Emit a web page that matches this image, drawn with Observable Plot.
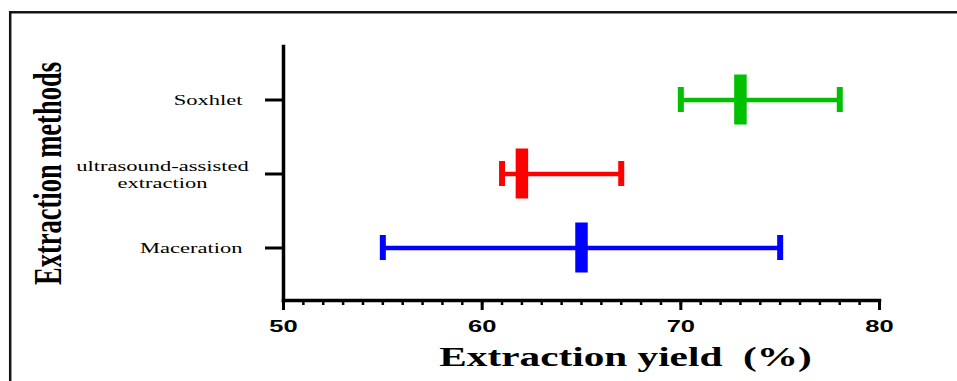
<!DOCTYPE html>
<html>
<head>
<meta charset="utf-8">
<script src="https://cdn.jsdelivr.net/npm/d3@7"></script>
<script src="https://cdn.jsdelivr.net/npm/@observablehq/plot@0.6"></script>
<style>
  html, body { margin: 0; padding: 0; background: #fff; overflow: hidden; }
  #wrap { width: 957px; height: 381px; overflow: hidden; }
  #wrap svg { display: block; }
</style>
</head>
<body>
<div id="wrap"></div>
<script>
// ---- data ----
const methods = ["Soxhlet", "ultrasound-assisted\nextraction", "Maceration"];
const means   = [73, 62, 65];
const lows    = [70, 61, 55];
const highs   = [78, 67, 75];
const colors  = ["#00c000", "#ff0000", "#0000ff"];
const xTicks  = [50, 60, 70, 80];
const xMinorTicks = d3.range(50, 81, 1);
const xTitle = "Extraction yield  (%)";
const yTitle = "Extraction methods";

const rows = methods.map((m, i) => ({method: m, mean: means[i], lo: lows[i], hi: highs[i], color: colors[i]}));

const STRETCH = 1.5;
const serif = "Liberation Serif, Times New Roman, serif";

const chart = Plot.plot({
  width: 957,
  height: 381,
  marginLeft: 283,
  marginRight: 78,
  marginTop: 46,
  marginBottom: 81,
  style: {background: "#fff", overflow: "hidden"},
  x: {domain: [50, 80]},
  y: {type: "band", domain: methods, paddingInner: 2 / 3, paddingOuter: 0.527},
  color: {type: "identity"},
  marks: [
    // axis lines
    Plot.frame({anchor: "left", strokeWidth: 3.5, stroke: "#000"}),
    Plot.frame({anchor: "bottom", strokeWidth: 3.5, stroke: "#000"}),
    // x axis minor & major ticks
    Plot.axisX({ticks: xMinorTicks, tickSize: 5, strokeWidth: 2.5, text: null, label: null}),
    Plot.axisX({ticks: xTicks, tickSize: 10, strokeWidth: 3, text: null, label: null}),
    Plot.axisX({ticks: xTicks, tickSize: 0, tickPadding: 19, label: null,
                fontFamily: "Liberation Sans, Arial, sans-serif", fontWeight: "bold", fontSize: 17, fill: "#000"}),
    // y axis ticks & labels
    Plot.axisY({tickSize: 18, strokeWidth: 3, text: null, label: null}),
    Plot.axisY({ticks: [methods[0], methods[2]], tickSize: 0, tickPadding: 41, textAnchor: "end", label: null,
                fontFamily: serif, fontSize: 15, fill: "#000"}),
    Plot.axisY({ticks: [methods[1]], tickSize: 0, tickPadding: 121, textAnchor: "middle", lineHeight: 1.12, label: null,
                fontFamily: serif, fontSize: 15, fill: "#000"}),
    // error bars
    Plot.ruleY(rows, {y: "method", x1: "lo", x2: "hi", stroke: "color", strokeWidth: 4.5}),
    Plot.tickX(rows, {x: "lo", y: "method", stroke: "color", strokeWidth: 6}),
    Plot.tickX(rows, {x: "hi", y: "method", stroke: "color", strokeWidth: 6}),
    Plot.tickX(rows, {x: "mean", y: "method", stroke: "color", strokeWidth: 12.5, insetTop: -12.5, insetBottom: -12.5}),
    // axis titles
    Plot.text([xTitle], {frameAnchor: "bottom", lineAnchor: "bottom", dx: 44, dy: 65,
                fontFamily: serif, fontWeight: "bold", fontSize: 27.5, fill: "#000",
                className: "xtitle"}),
    Plot.text([yTitle], {frameAnchor: "left", textAnchor: "middle", lineAnchor: "bottom", rotate: -90, dx: -223,
                fontFamily: serif, fontWeight: "bold", fontSize: 26.5, fill: "#000",
                className: "ytitle"})
  ]
});

document.getElementById("wrap").append(chart);

// figure border (top and left edges of the original figure frame)
const svg = d3.select(chart);
svg.append("line")
  .attr("x1", 10.2).attr("y1", 11)
  .attr("x2", 10.2).attr("y2", 400)
  .attr("stroke", "#151515").attr("stroke-width", 2.5);
svg.append("line")
  .attr("x1", 9).attr("y1", 12.2)
  .attr("x2", 980).attr("y2", 12.2)
  .attr("stroke", "#151515").attr("stroke-width", 2.5);

// Horizontal stretch of the reference (everything appears widened ~1.5x)
chart.querySelectorAll("text").forEach(t => {
  if (t.closest(".ytitle")) {
    // rotated text: its local y axis runs horizontally on screen
    const tr = t.getAttribute("transform") || "";
    t.setAttribute("transform", tr + " scale(1," + STRETCH + ")");
    return;
  }
  const spans = t.querySelectorAll("tspan");
  if (spans.length) {
    spans.forEach(s => {
      const L = s.getComputedTextLength();
      s.setAttribute("textLength", L * STRETCH);
      s.setAttribute("lengthAdjust", "spacingAndGlyphs");
    });
  } else {
    const L = t.getComputedTextLength();
    t.setAttribute("textLength", L * STRETCH);
    t.setAttribute("lengthAdjust", "spacingAndGlyphs");
  }
});
</script>
</body>
</html>
